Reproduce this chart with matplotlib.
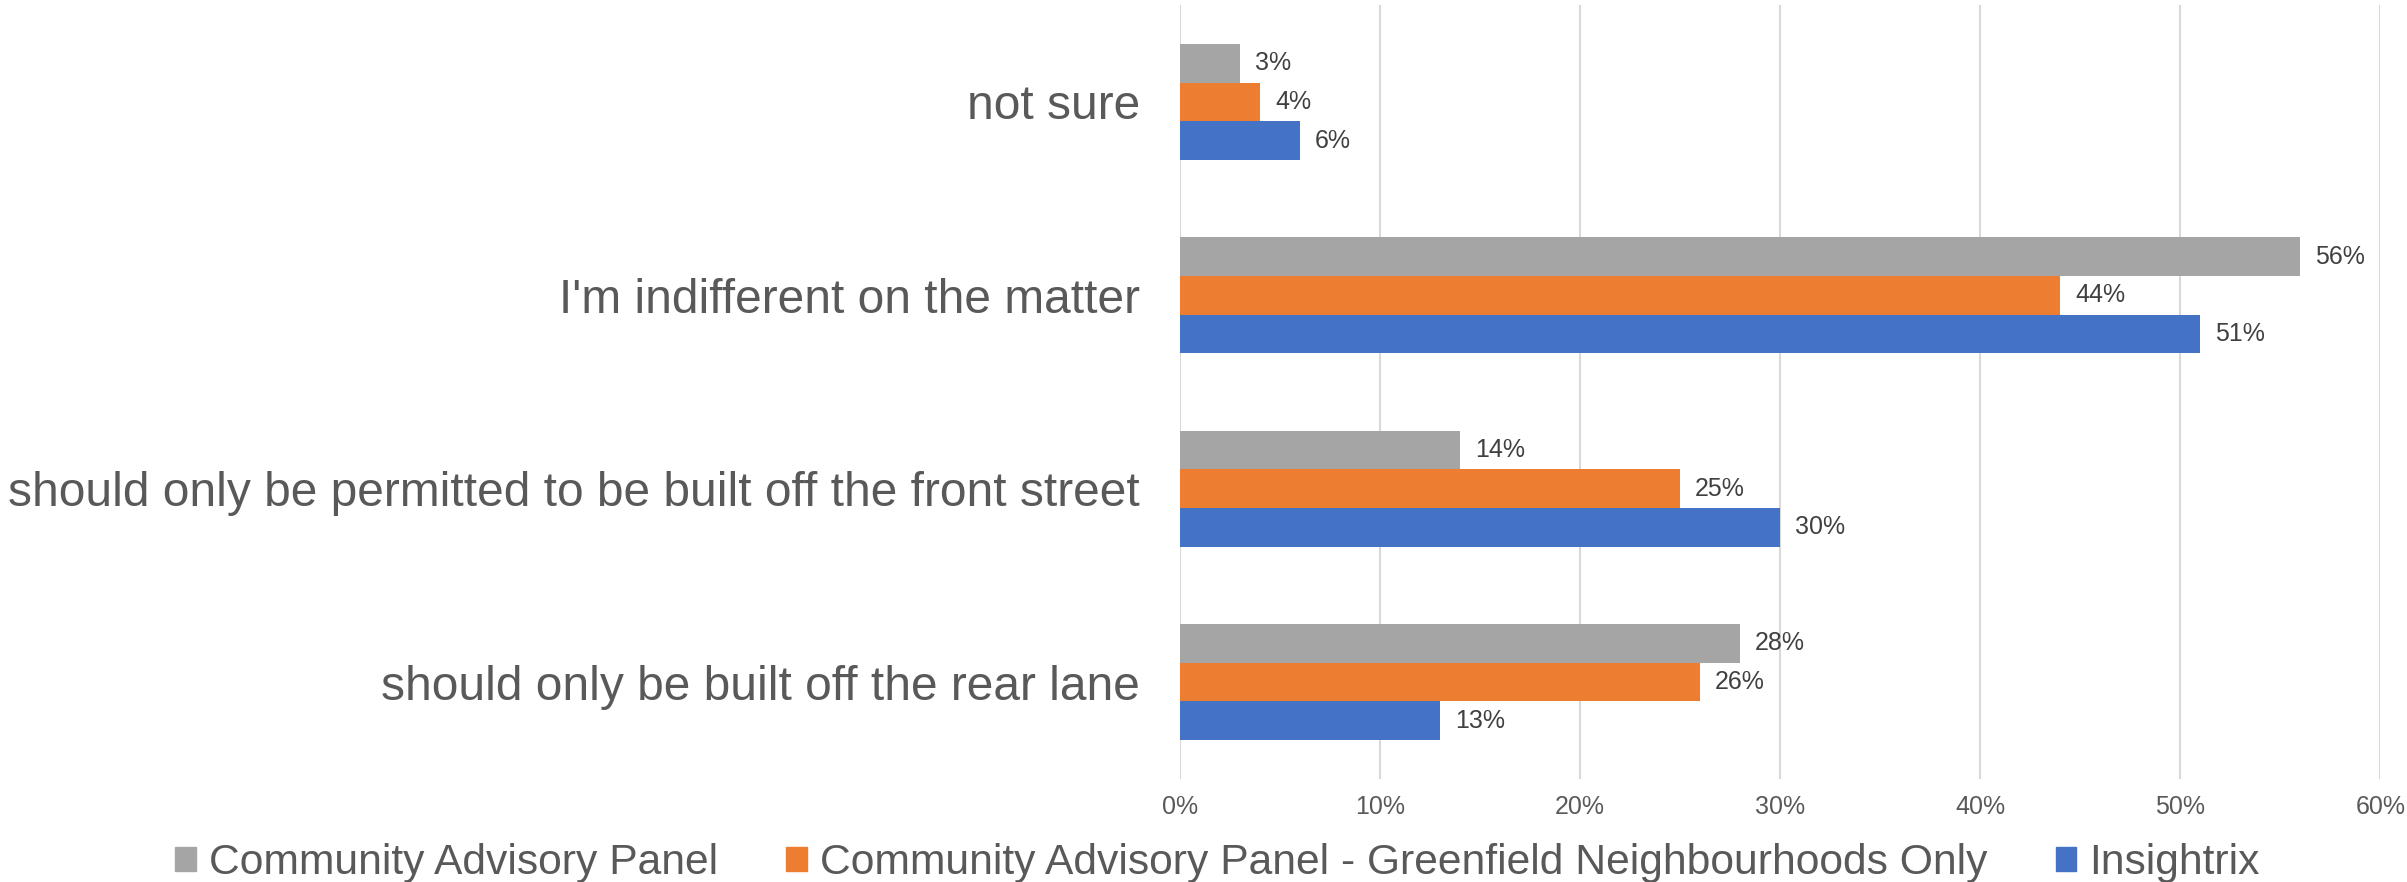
from matplotlib import pyplot as plt
from matplotlib.patches import Patch
import numpy as np

# Responses, listed bottom to top as drawn on the y axis
categories = ['should only be built off the rear lane',
              'should only be permitted to be built off the front street',
              "I'm indifferent on the matter",
              'not sure']
cap = [28, 14, 56, 3]
cap_greenfield = [26, 25, 44, 4]
insightrix = [13, 30, 51, 6]

series_names = ['Community Advisory Panel',
                'Community Advisory Panel - Greenfield Neighbourhoods Only',
                'Insightrix']
colors = ['#A5A5A5', '#ED7D31', '#4472C4']
x_ticks = [0, 10, 20, 30, 40, 50, 60]

text_color = '#595959'
plt.rcParams['font.family'] = ['Liberation Sans', 'DejaVu Sans']


def main():

    fig = plt.figure(figsize=(24.07, 8.82), dpi=100)
    ax = fig.add_axes([0.4903, 0.117, 0.4986, 0.877])

    y = np.arange(len(categories))
    height = 0.2
    # gray on top, orange middle, blue bottom within each group
    offsets = [height, 0, -height]
    for values, off, color in zip([cap, cap_greenfield, insightrix],
                                  offsets, colors):
        bars = ax.barh(y + off, values, height=height, color=color,
                       zorder=3)
        for bar, val in zip(bars, values):
            ax.annotate('{}%'.format(val),
                        (bar.get_width(), bar.get_y() + bar.get_height() / 2),
                        xytext=(15, 0), textcoords='offset pixels',
                        va='center', ha='left', fontsize=18,
                        color='#404040')

    ax.set_xlim(0, 60)
    ax.set_ylim(-0.5, len(categories) - 0.5)
    ax.set_xticks(x_ticks)
    ax.set_xticklabels(['{}%'.format(t) for t in x_ticks])
    ax.set_yticks(y)
    ax.set_yticklabels(categories)
    ax.tick_params(axis='x', length=0, labelsize=18, labelcolor=text_color,
                   pad=12)
    ax.tick_params(axis='y', length=0, labelsize=34.5, labelcolor=text_color,
                   pad=29)
    ax.grid(True, axis='x', color='#D9D9D9', linewidth=1.5, zorder=0)
    for spine in ax.spines.values():
        spine.set_visible(False)

    handles = [Patch(color=c) for c in colors]
    fig.legend(handles, series_names, loc='center',
               bbox_to_anchor=(0.5058, 0.021), ncol=3, frameon=False,
               fontsize=30.7, labelcolor=text_color, handlelength=0.49,
               handleheight=0.49, handletextpad=0.3, columnspacing=1.6)

    plt.savefig('out.png', dpi=100)


if __name__ == "__main__":
    main()
